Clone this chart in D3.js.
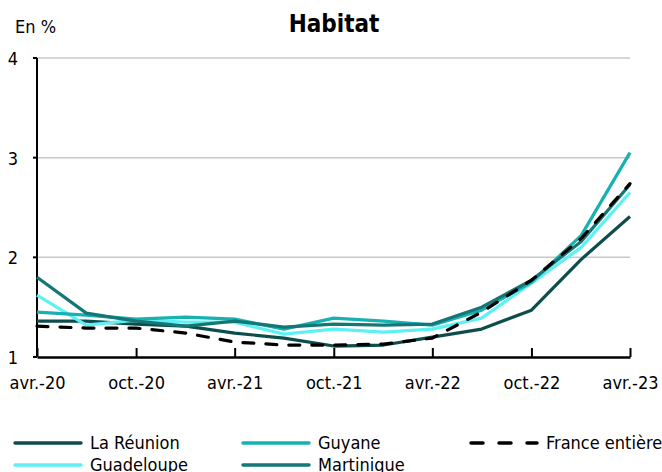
<!DOCTYPE html>
<html>
<head>
<meta charset="utf-8">
<script src="https://cdn.jsdelivr.net/npm/d3@7"></script>
<style>
  body { margin: 0; background: #fff; }
  svg text { font-family: "DejaVu Sans Condensed", "DejaVu Sans", sans-serif; }
</style>
</head>
<body>
<svg id="vis" width="662" height="472"></svg>
<script>
// quarterly dates, avr.-20 to avr.-23
const months = ["2020-04", "2020-07", "2020-10", "2021-01", "2021-04", "2021-07", "2021-10",
    "2022-01", "2022-04", "2022-07", "2022-10", "2023-01", "2023-04"];
const tickLabels = ["avr.-20", "oct.-20", "avr.-21", "oct.-21", "avr.-22", "oct.-22", "avr.-23"];

const reunion    = [1.36, 1.36, 1.33, 1.31, 1.24, 1.19, 1.11, 1.12, 1.20, 1.28, 1.47, 1.98, 2.41];
const guyane     = [1.45, 1.42, 1.38, 1.40, 1.38, 1.28, 1.39, 1.36, 1.32, 1.47, 1.75, 2.22, 3.05];
const martinique = [1.80, 1.44, 1.36, 1.31, 1.36, 1.30, 1.33, 1.32, 1.33, 1.50, 1.77, 2.16, 2.73];
const guadeloupe = [1.62, 1.32, 1.37, 1.35, 1.35, 1.23, 1.28, 1.25, 1.28, 1.39, 1.74, 2.10, 2.65];
const france     = [1.31, 1.29, 1.29, 1.24, 1.15, 1.12, 1.12, 1.13, 1.19, 1.45, 1.77, 2.19, 2.74];

const series = [
    {name: "La Réunion", values: reunion, color: "#0d4e4c", dash: null},
    {name: "Guadeloupe", values: guadeloupe, color: "#5ef0f4", dash: null},
    {name: "Guyane", values: guyane, color: "#18b1b1", dash: null},
    {name: "Martinique", values: martinique, color: "#157676", dash: null},
    {name: "France entière", values: france, color: "#000000", dash: "11,12"}
];

const svg = d3.select('#vis');
const parse = d3.timeParse("%Y-%m");
const dates = months.map(parse);

const x = d3.scaleTime()
    .domain([dates[0], dates[dates.length - 1]])
    .range([37, 630]);
const y = d3.scaleLinear()
    .domain([1, 4])
    .range([357, 58]);

// gridlines
svg.append('g')
    .selectAll('line')
    .data([2, 3, 4])
    .enter().append('line')
    .attr('x1', 37).attr('x2', 630)
    .attr('y1', function (d) { return y(d); })
    .attr('y2', function (d) { return y(d); })
    .attr('stroke', '#c8c8c8')
    .attr('stroke-width', 1.5);

// y axis
svg.append('line')
    .attr('x1', 37).attr('x2', 37)
    .attr('y1', y(4)).attr('y2', y(1))
    .attr('stroke', '#000').attr('stroke-width', 2);
svg.append('g')
    .selectAll('line')
    .data([1, 2, 3, 4])
    .enter().append('line')
    .attr('x1', 33).attr('x2', 37)
    .attr('y1', function (d) { return y(d); })
    .attr('y2', function (d) { return y(d); })
    .attr('stroke', '#000').attr('stroke-width', 2);
svg.append('g')
    .selectAll('text')
    .data([1, 2, 3, 4])
    .enter().append('text')
    .attr('x', 13)
    .attr('y', function (d) { return y(d) + 7; })
    .attr('text-anchor', 'middle')
    .attr('font-size', 18)
    .text(function (d) { return d; });

// x axis
const tickDates = tickLabels.map(function (d, i) { return dates[i * 2]; });
const xAxis = svg.append('g')
    .attr('transform', 'translate(0,' + y(1) + ')')
    .call(d3.axisBottom(x)
        .tickValues(tickDates)
        .tickSizeInner(-9)
        .tickSizeOuter(0)
        .tickFormat(function (d, i) { return tickLabels[i]; }));
xAxis.select('.domain').attr('stroke', '#000').attr('stroke-width', 2.5);
xAxis.selectAll('.tick line').attr('stroke', '#000').attr('stroke-width', 2);
xAxis.selectAll('.tick text')
    .attr('y', 32)
    .attr('dy', 0)
    .attr('font-size', 18)
    .attr('fill', '#000')
    .style('font-family', '"DejaVu Sans Condensed", "DejaVu Sans", sans-serif');

// lines
const line = d3.line()
    .x(function (d, i) { return x(dates[i]); })
    .y(function (d) { return y(d); });

svg.append('g')
    .selectAll('path')
    .data(series)
    .enter().append('path')
    .attr('d', function (d) { return line(d.values); })
    .attr('fill', 'none')
    .attr('stroke', function (d) { return d.color; })
    .attr('stroke-width', 3.2)
    .attr('stroke-dasharray', function (d) { return d.dash; })
    .attr('stroke-linecap', function (d) { return d.dash ? 'round' : 'butt'; })
    .attr('stroke-linejoin', 'round');

// titles
svg.append('text')
    .attr('x', 15).attr('y', 33)
    .attr('font-size', 18)
    .text('En %');
svg.append('text')
    .attr('x', 334).attr('y', 32)
    .attr('text-anchor', 'middle')
    .attr('font-size', 24)
    .attr('font-weight', 'bold')
    .text('Habitat');

// legend
const legendItems = [
    {s: series[0], x: 14, y: 443},
    {s: series[2], x: 242, y: 443},
    {s: series[4], x: 470, y: 443},
    {s: series[1], x: 14, y: 465},
    {s: series[3], x: 242, y: 465}
];
const legend = svg.append('g')
    .selectAll('g')
    .data(legendItems)
    .enter().append('g')
    .attr('transform', function (d) { return 'translate(' + d.x + ',' + d.y + ')'; });
legend.append('line')
    .attr('x1', 1).attr('x2', 67)
    .attr('y1', 0).attr('y2', 0)
    .attr('stroke', function (d) { return d.s.color; })
    .attr('stroke-width', 3.5)
    .attr('stroke-linecap', 'round')
    .attr('stroke-dasharray', function (d) { return d.s.dash ? "12,16" : null; });
legend.append('text')
    .attr('x', 76)
    .attr('y', 6)
    .attr('font-size', 18)
    .text(function (d) { return d.s.name; });
</script>
</body>
</html>
